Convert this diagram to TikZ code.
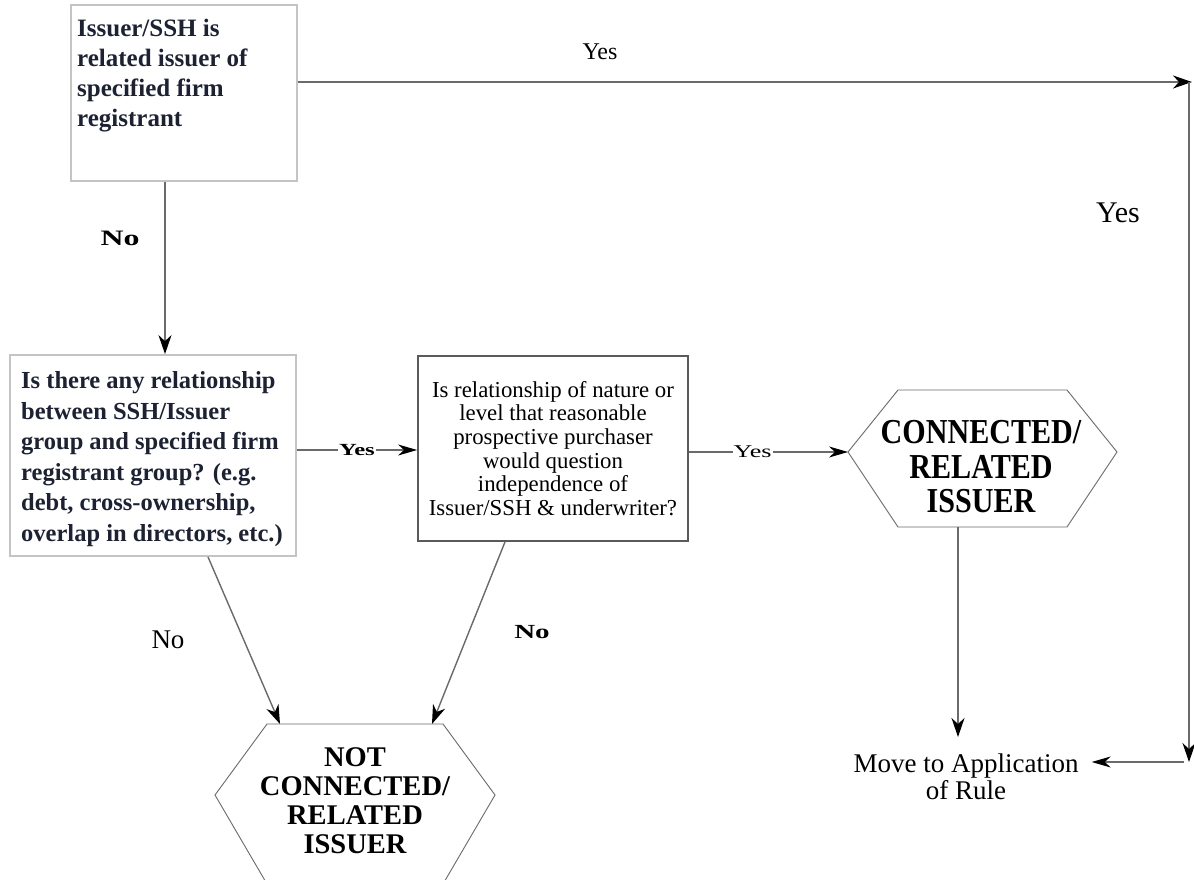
\documentclass[tikz,border=0pt]{standalone}
\usepackage{fontspec}
\setmainfont{Liberation Serif}
\newfontfamily\widefont[FakeStretch=1.45]{Liberation Serif}
\newfontfamily\narrowfont[FakeStretch=0.86]{Liberation Serif}
\usetikzlibrary{arrows.meta,calc}
\definecolor{boxtext}{HTML}{1C2233}
\definecolor{lightframe}{HTML}{C4C4C4}
\definecolor{darkframe}{HTML}{5A5A5A}
\definecolor{linegray}{HTML}{6A6A6A}
\tikzset{
  lightbox/.style={draw=lightframe, line width=1.8pt, fill=white},
  darkbox/.style={draw=darkframe, line width=1.8pt, fill=white},
  hexline/.style={draw=linegray, line width=0.9pt},
  arr/.style={draw=linegray, line width=1.4pt, -{Stealth[length=19pt,width=13pt,inset=6pt,color=black]}},
  smallarr/.style={draw=linegray, line width=1.1pt, -{Stealth[length=19pt,width=11pt,inset=6pt,color=black]}},
  lab/.style={inner sep=1pt, fill=white},
}
\begin{document}
\begin{tikzpicture}[x=1pt,y=-1pt]
\useasboundingbox (0,0) rectangle (1194,880);
\fill[white] (0,0) rectangle (1194,880);

% boxes
\node[lightbox, minimum width=226pt, minimum height=176pt, inner sep=0pt] (b1) at (184,93) {};
\node[anchor=north west, inner sep=0pt, align=left, text=boxtext,
      font=\bfseries\fontsize{25}{30}\selectfont] (b1t) at (77,19)
  {Issuer/SSH is\\related issuer of\\specified firm\\registrant};

\node[lightbox, minimum width=286pt, minimum height=201pt, inner sep=0pt] (b2) at (153,455.5) {};
\node[anchor=west, inner sep=0pt, align=left, text=boxtext,
      font=\bfseries\fontsize{24.5}{30.5}\selectfont] (b2t) at (21,459)
  {Is there any relationship\\between SSH/Issuer\\group and specified firm\\registrant group? (e.g.\\debt, cross-ownership,\\overlap in directors, etc.)};

\node[darkbox, minimum width=270pt, minimum height=185pt, inner sep=0pt,
      align=center, font=\fontsize{22.8}{23.6}\selectfont] (b3) at (553,448.5)
  {Is relationship of nature or\\level that reasonable\\prospective purchaser\\would question\\independence of\\Issuer/SSH \& underwriter?};

% connected hexagon
\coordinate (hcL) at (848,452);
\coordinate (hcB) at (958,527);
\draw[hexline] (hcL) -- (898,390) -- (1067,390) -- (1117,452) -- (1067,527) -- (898,527) -- cycle;
\node[align=center, inner sep=0pt, font=\narrowfont\bfseries\fontsize{35}{34.5}\selectfont] (hc) at (981,467)
  {CONNECTED/\\RELATED\\ISSUER};

% not connected hexagon
\coordinate (n1) at (280,724);
\coordinate (n2) at (432,724);
\draw[hexline] (215,795) -- (267,724) -- (443,724) -- (495,795) -- (443,884) -- (267,884) -- cycle;
\node[align=center, inner sep=0pt, font=\bfseries\fontsize{28.5}{29}\selectfont] (hn) at (355,801)
  {NOT\\CONNECTED/\\RELATED\\ISSUER};

% final text
\node[align=center, inner xsep=13pt, inner ysep=0pt, font=\fontsize{27}{27.5}\selectfont] (mv) at (966,777)
  {Move to Application\\of Rule};

% connectors
\coordinate (d1) at (165,0);
\draw[arr] (b1.south -| d1) -- (b2.north -| d1);

\coordinate (tr) at (1189,82);
\coordinate (br) at (1189,762);
\draw[arr] (b1.east |- tr) -- ([xshift=3pt]tr.center);
\draw[arr] (tr) -- (br);
\draw[smallarr] ([xshift=-5pt]br.center) -- (mv.east |- br);

\coordinate (y1) at (0,450);
\draw[smallarr] (b2.east |- y1) -- (b3.west |- y1)
  node[lab, midway, font=\widefont\bfseries\fontsize{17}{17}\selectfont] {Yes};
\draw[smallarr] (b3.east |- hcL) -- (hcL)
  node[lab, pos=0.4, font=\widefont\fontsize{18}{18}\selectfont] {Yes};

\coordinate (mvtop) at (958,737);
\draw[arr] (hcB) -- (mvtop);

\draw[arr] ([xshift=55pt]b2.south) -- (n1);
\draw[arr] ([xshift=-48pt]b3.south) -- (n2);

% labels
\node[font=\fontsize{24}{24}\selectfont] (l1) at (600,52) {Yes};
\node[font=\fontsize{30}{30}\selectfont] (l2) at (1118,213) {Yes};
\node[font=\widefont\bfseries\fontsize{22}{22}\selectfont] (l3) at (120,238) {No};
\node[font=\fontsize{27}{27}\selectfont] (l4) at (168,640) {No};
\node[font=\widefont\bfseries\fontsize{20}{20}\selectfont] (l5) at (532,632) {No};
\end{tikzpicture}
\end{document}
